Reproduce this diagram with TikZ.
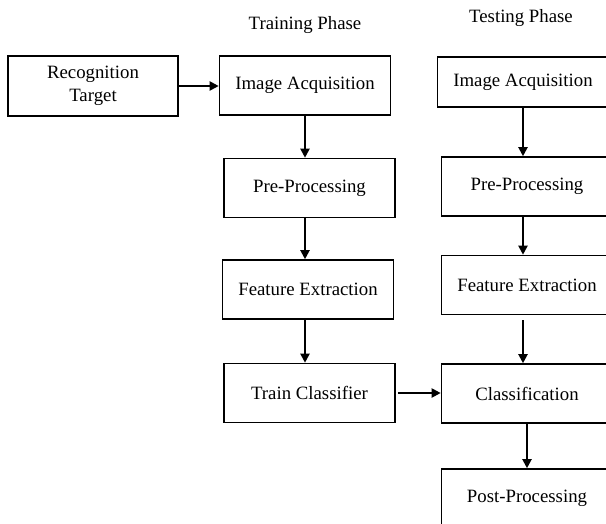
\documentclass[tikz,border=0pt]{standalone}
\usepackage{fontspec}
\setmainfont{Liberation Serif}
\usetikzlibrary{arrows.meta}
\begin{document}
\begin{tikzpicture}[x=1pt,y=-1pt,
box/.style={draw,line width=1.6pt,minimum width=171pt,minimum height=59pt,inner sep=0pt,align=center,font={\fontsize{18.8}{23}\selectfont}},
hdr/.style={font={\fontsize{18.8}{23}\selectfont}},
arr/.style={line width=2pt,-{Triangle[length=9pt,width=9pt]}}
]
\useasboundingbox (0,0) rectangle (606,523);
\clip (0,0) rectangle (606,523);

\node[hdr] (trh) at (305,25) {Training Phase};
\node[hdr] (teh) at (521,18) {Testing Phase};

\node[box,minimum width=170pt,minimum height=60pt] (rt) at (93,86) {Recognition\\Target};

\node[box] (tia) at (305,85.5) {Image Acquisition};
\node[box] (tpp) at (309.5,188) {Pre-Processing};
\node[box] (tfe) at (308,289.5) {Feature Extraction};
\node[box] (ttc) at (309.5,393) {Train Classifier};

\node[box,minimum height=50pt] (sia) at (523,82) {Image Acquisition};
\node[box] (spp) at (527,186.5) {Pre-Processing};
\node[box] (sfe) at (527,285) {Feature Extraction};
\node[box] (cls) at (527,393.5) {Classification};
\node[box] (post) at (527,498.5) {Post-Processing};

\draw[arr] (rt.east) -- (rt.east -| tia.west);
\foreach \a/\b in {tia/tpp,tpp/tfe,tfe/ttc} {
\draw[arr] (\a.south -| tia.south) -- (\b.north -| tia.south);
};
\foreach \a/\b in {sia/spp,spp/sfe} {
\draw[arr] (\a.south -| sia.south) -- (\b.north -| sia.south);
};
\draw[arr,shorten <=5pt] (sfe.south -| sia.south) -- (cls.north -| sia.south);
\draw[arr] (cls) -- (post);
\draw[arr,shorten <=2pt] (ttc.east) -- (ttc.east -| cls.west);
\end{tikzpicture}
\end{document}
